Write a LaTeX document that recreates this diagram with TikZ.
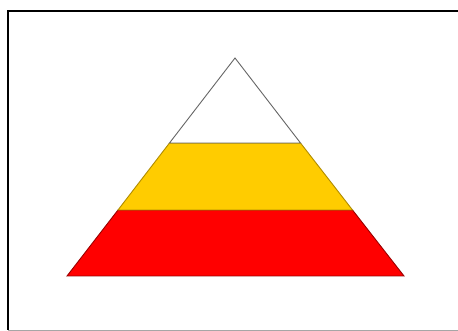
\documentclass[tikz,border=0pt]{standalone}
\begin{document}
\begin{tikzpicture}[x=1pt,y=-1pt,
  band/.style={line width=0.9pt, line join=miter},
  frame/.style={line width=2pt, black}]
\useasboundingbox (0,0) rectangle (458,331);
\fill[white] (0,0) rectangle (458,331);
% frame
\coordinate (ftr) at (458,11);
\coordinate (ftl) at (8,11);
\coordinate (fbl) at (8,330);
\coordinate (fbr) at (458,330);
\draw[frame] (ftr) -- (ftl) -- (fbl);
\draw[gray!70, line width=0.8pt] (fbl) -- (fbr);
% pyramid corners
\coordinate (apex) at (235,58);
\coordinate (yl) at (169.5,143);
\coordinate (yr) at (300.5,143);
\coordinate (rl) at (118,210);
\coordinate (rr) at (352.5,210);
\coordinate (bl) at (67,276);
\coordinate (br) at (404,276);
% bands
\draw[band, fill=red, draw=red!60!black] (rl) -- (rr) -- (br) -- (bl) -- cycle;
\draw[band, fill={rgb,255:red,255;green,204;blue,0}, draw={rgb,255:red,176;green,140;blue,0}] (yl) -- (yr) -- (rr) -- (rl) -- cycle;
\draw[band, fill=white, draw=gray!80!black] (apex) -- (yr) -- (yl) -- cycle;
\end{tikzpicture}
\end{document}
